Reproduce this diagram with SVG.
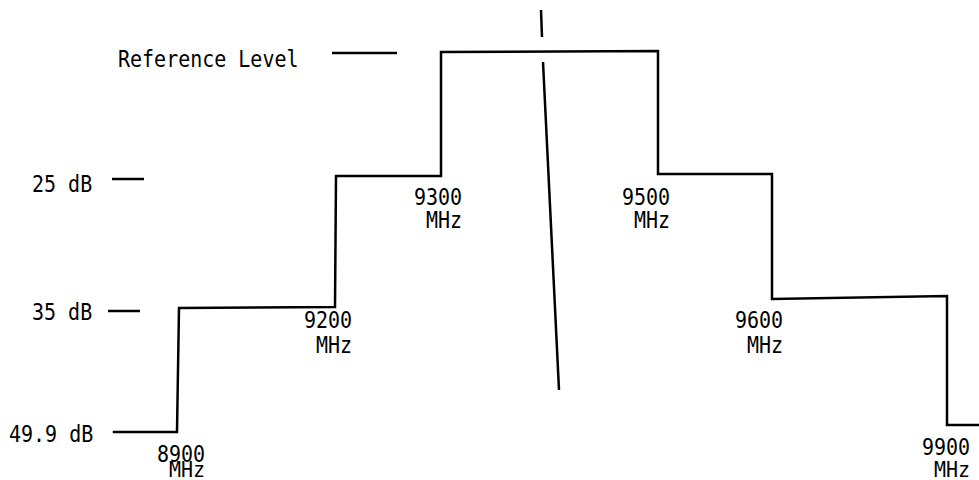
<svg xmlns="http://www.w3.org/2000/svg" width="979" height="480" viewBox="0 0 979 480">
<style>
.t{font-family:"DejaVu Sans Mono","Liberation Mono",monospace;font-size:20px;fill:#000}
.ln{stroke:#000;stroke-width:2.5;fill:none;stroke-linecap:square;stroke-linejoin:miter}
.tk{stroke:#000;stroke-width:2.5;fill:none}
</style>
<rect width="979" height="480" fill="#fff"/>
<g id="connectors">
<path class="ln" d="M114,432 L177,432 L179,308 L335,307 L336,176 L441,176 L441,52 L658,51 L658,174 L772,174 L772,299 L947,296 L947,425 L979,425"/>
<line class="tk" x1="541" y1="10" x2="542" y2="37"/>
<line class="tk" x1="543" y1="62" x2="559" y2="390"/>
</g>
<g id="ref-level">
<text class="t" transform="translate(118,67) scale(1,1.17)">Reference Level</text>
<line class="tk" x1="332" y1="53" x2="397" y2="53"/>
</g>
<g id="db25">
<text class="t" transform="translate(32,192) scale(1,1.17)">25 dB</text>
<line class="tk" x1="112" y1="179" x2="144" y2="179"/>
</g>
<g id="db35">
<text class="t" transform="translate(32,320) scale(1,1.17)">35 dB</text>
<line class="tk" x1="108" y1="311" x2="140" y2="311"/>
</g>
<g id="db49">
<text class="t" transform="translate(9,442) scale(1,1.17)">49.9 dB</text>
</g>
<g id="f8900"><text class="t" transform="translate(157,462) scale(1,1.17)">8900</text><text class="t" transform="translate(169,477) scale(1,1.1)">MHz</text></g>
<g id="f9200"><text class="t" transform="translate(304,328) scale(1,1.17)">9200</text><text class="t" transform="translate(316,353) scale(1,1.17)">MHz</text></g>
<g id="f9300"><text class="t" transform="translate(414,205) scale(1,1.17)">9300</text><text class="t" transform="translate(426,228) scale(1,1.17)">MHz</text></g>
<g id="f9500"><text class="t" transform="translate(622,205) scale(1,1.17)">9500</text><text class="t" transform="translate(634,228) scale(1,1.17)">MHz</text></g>
<g id="f9600"><text class="t" transform="translate(735,328) scale(1,1.17)">9600</text><text class="t" transform="translate(747,353) scale(1,1.17)">MHz</text></g>
<g id="f9900"><text class="t" transform="translate(922,455) scale(1,1.17)">9900</text><text class="t" transform="translate(934,477) scale(1,1.1)">MHz</text></g>
</svg>
